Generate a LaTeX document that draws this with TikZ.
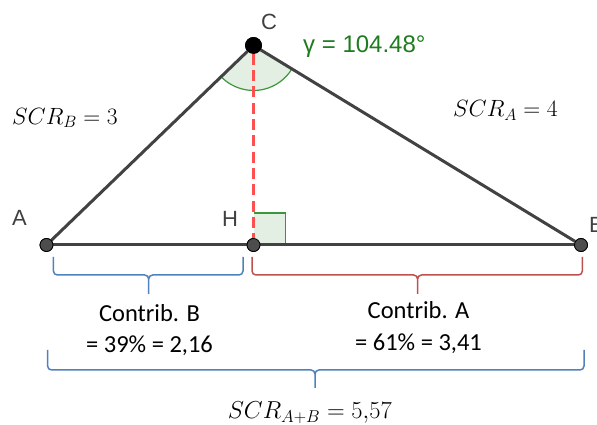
\documentclass[tikz,border=0pt]{standalone}
\usepackage{fix-cm}
\usepackage[no-math]{fontspec}
\setmainfont{Carlito}
\newfontfamily\ggbfont{Liberation Sans}
\usetikzlibrary{angles, positioning}

\definecolor{edgegray}{HTML}{424242}
\definecolor{dotgray}{HTML}{4D4D4D}
\definecolor{lblgray}{HTML}{404040}
\definecolor{altred}{HTML}{FF5050}
\definecolor{anggreen}{HTML}{3C963C}
\definecolor{angfill}{HTML}{E3EFE3}
\definecolor{gammagreen}{HTML}{1E7B1E}
\definecolor{braceblue}{HTML}{4F81BD}
\definecolor{bracered}{HTML}{C0504D}

\begin{document}
\begin{tikzpicture}[
  x=1pt, y=1pt,
  pt/.style={circle, draw=black, fill=dotgray, line width=0.8pt, inner sep=0pt, minimum size=13pt},
  apex/.style={pt, fill=black, minimum size=16pt},
  side/.style={draw=edgegray, line width=3pt},
  alt/.style={draw=altred, line width=3.8pt, dash pattern=on 11pt off 5.3pt},
  ptlbl/.style={font=\ggbfont\fontsize{22}{26}\selectfont, text=lblgray, inner sep=0pt, anchor=base west},
  mlbl/.style={font=\fontsize{23.5}{28}\selectfont, inner sep=0pt, anchor=base west},
  contrib/.style={font=\fontsize{24.5}{31}\selectfont, inner sep=0pt, anchor=base},
  brace/.style={line width=1.5pt, rounded corners=4pt}
]
\useasboundingbox (0,0) rectangle (597,425);

% points
\node[pt] (A) at (46.5,180) {};
\node[pt] (H) at (253.5,180) {};
\node[pt] (B) at (581,180) {};
\node[apex] (C) at (253.5,379.5) {};

% angle marks
\pic[draw=anggreen, fill=angfill, line width=1.2pt, angle radius=45pt] {angle = A--C--B};
\pic[draw=anggreen, fill=angfill, line width=1.2pt, angle radius=32pt] {right angle = B--H--C};

\draw[side] (A) -- (C);
\draw[side] (C) -- (B);
\draw[side] (A) -- (H);
\draw[side] (H) -- (B);
\draw[alt] (C) -- (H);

% redraw points on top
\node[pt] at (A) {};
\node[pt] at (H) {};
\node[pt] at (B) {};
\node[apex] at (C) {};

% point labels
\node[ptlbl] (lA) at (12,199) {A};
\node[ptlbl] (lH) at (222,198) {H};
\node[ptlbl] (lB) at (589,192) {B};
\node[ptlbl] (lC) at (261,395) {C};
\node[ptlbl, font=\ggbfont\fontsize{24}{28}\selectfont, text=gammagreen] (gamma) at (303,372) {γ = 104.48°};

% side values
\node[mlbl] (scrB) at (12,300.7) {$SCR_B = 3$};
\node[mlbl] (scrA) at (453,308) {$SCR_A = 4$};

% braces
\draw[brace, braceblue] (53.4,168) -- (53.4,150) -- (148.7,150) -- (148.7,131)
  (243,168) -- (243,150) -- (148.7,150) -- (148.7,131);
\draw[brace, bracered] (252,168) -- (252,150) -- (417.6,150) -- (417.6,131)
  (582.4,168) -- (582.4,150) -- (417.6,150) -- (417.6,131);
\draw[brace, braceblue] (47.6,75) -- (47.6,55) -- (315,55) -- (315,37)
  (584,75) -- (584,55) -- (315,55) -- (315,37);

% contributions
\node[contrib] (contribB) at (149.5,103.3) {Contrib. B};
\node[contrib] (valB) at (149.5,72) {= 39\% = 2,16};
\node[contrib] (contribA) at (418.5,106) {Contrib. A};
\node[contrib] (valA) at (418.5,74) {= 61\% = 3,41};
\node[mlbl, font=\fontsize{24.5}{28}\selectfont] (scrAB) at (227.6,6) {$SCR_{A+B} = 5{,}57$};
\end{tikzpicture}
\end{document}
